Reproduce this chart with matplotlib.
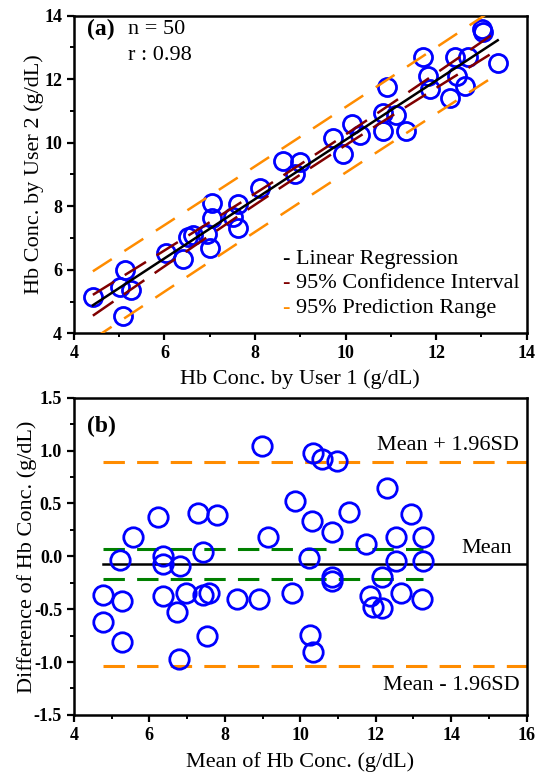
import numpy as np
import matplotlib
matplotlib.use("Agg")
import matplotlib.pyplot as plt
from matplotlib.ticker import MultipleLocator

plt.rcParams['font.family'] = ['Liberation Serif', 'DejaVu Serif']

# (a) Hb concentration read by the two users (g/dL)
user1 = [4.42, 5.13, 5.02, 5.26, 5.08, 6.03, 6.41, 6.52, 6.63, 6.94,
         7.00, 7.05, 7.05, 7.51, 7.62, 7.62, 8.11, 8.62, 8.88, 8.99,
         13.01, 13.03, 13.36, 11.70, 12.41, 12.70, 11.81, 12.45, 11.86, 12.63,
         12.30, 10.91, 10.82, 11.11, 10.14, 9.72, 10.31, 10.82, 11.33, 9.94]
user2 = [5.13, 6.00, 5.45, 5.35, 4.53, 6.52, 6.33, 7.02, 7.08, 7.11,
         6.70, 7.62, 8.09, 7.65, 8.06, 7.30, 8.56, 9.42, 9.00, 9.38,
         13.59, 13.47, 12.52, 12.68, 12.68, 12.68, 12.11, 12.11, 11.70, 11.77,
         11.39, 11.74, 10.92, 10.86, 10.60, 10.16, 10.23, 10.38, 10.38, 9.63]

# (b) Bland-Altman: mean and difference of the two readings
ba_mean = [4.77, 5.27, 4.77, 5.27, 5.22, 5.56, 6.23, 6.36, 6.36, 6.81,
           6.36, 6.73, 6.97, 6.78, 7.28, 7.79, 7.42, 7.42, 7.58, 7.52,
           8.32, 8.90, 9.14, 9.77, 9.85, 10.30, 10.83, 11.28, 12.93, 11.74,
           12.53, 13.25, 10.23, 12.53, 13.25, 10.83, 10.83, 12.16, 11.84, 11.92,
           12.16, 12.66, 13.22, 10.25, 10.33, 10.33, 10.57, 10.97, 12.29, 8.98]
ba_diff = [-0.37, -0.42, -0.62, -0.81, -0.03, 0.18, 0.37, 0.00, -0.07, -0.09,
           -0.38, -0.53, -0.35, -0.97, 0.41, 0.39, 0.04, -0.37, -0.35, -0.75,
           -0.40, -0.40, 0.18, -0.35, 0.52, 0.33, 0.23, 0.42, 0.40, 0.12,
           0.18, 0.18, -0.02, -0.04, -0.04, -0.20, -0.23, -0.20, -0.38, -0.48,
           -0.49, -0.35, -0.40, -0.74, -0.91, 0.98, 0.92, 0.90, 0.65, 1.04]
bias = -0.075
loa_upper = 0.89
loa_lower = -1.04
bias_ci = [0.065, -0.215]

BLUE = '#0000ff'
ORANGE = '#ff8c00'
DARKRED = '#800000'
GREEN = '#008000'

fig = plt.figure(figsize=(5.43, 7.77), dpi=100)
ax1 = fig.add_axes([0.136, 0.571, 0.834, 0.409])
ax2 = fig.add_axes([0.136, 0.080, 0.834, 0.408])


def style(ax):
    for sp in ax.spines.values():
        sp.set_linewidth(1.8)
    ax.tick_params(which='major', direction='out', length=5, width=1.6,
                   labelsize=13)
    ax.tick_params(which='minor', direction='out', length=3, width=1.4)
    for lab in ax.get_xticklabels() + ax.get_yticklabels():
        lab.set_fontweight('bold')


# ---- (a) regression with 95% confidence / prediction bands
x = np.array(user1)
y = np.array(user2)
n = len(x)
slope, icpt = np.polyfit(x, y, 1)
resid = y - (slope * x + icpt)
s = np.sqrt(np.sum(resid ** 2) / (n - 2))
sxx = np.sum((x - x.mean()) ** 2)
t = 2.02
xs = np.linspace(x.min(), x.max(), 200)
fit = slope * xs + icpt
ci = t * s * np.sqrt(1.0 / n + (xs - x.mean()) ** 2 / sxx)
pi = t * s * np.sqrt(1 + 1.0 / n + (xs - x.mean()) ** 2 / sxx)

ax1.plot(x, y, 'o', ms=13, mfc='none', mec=BLUE, mew=2, zorder=2)
ax1.plot(xs, fit, color='black', lw=1.8, zorder=3)
ax1.plot(xs, fit + ci, color=DARKRED, lw=1.8, dashes=(10, 5), zorder=3)
ax1.plot(xs, fit - ci, color=DARKRED, lw=1.8, dashes=(10, 5), zorder=3)
ax1.plot(xs, fit + pi, color=ORANGE, lw=1.8, dashes=(9, 6), zorder=3)
ax1.plot(xs, fit - pi, color=ORANGE, lw=1.8, dashes=(9, 6), zorder=3)

ax1.set_xlim(4, 14)
ax1.set_ylim(4, 14)
ax1.xaxis.set_major_locator(MultipleLocator(2))
ax1.xaxis.set_minor_locator(MultipleLocator(1))
ax1.yaxis.set_major_locator(MultipleLocator(2))
ax1.yaxis.set_minor_locator(MultipleLocator(1))
ax1.set_xlabel('Hb Conc. by User 1 (g/dL)', fontsize=16, labelpad=5)
ax1.set_ylabel('Hb Conc. by User 2 (g/dL)', fontsize=16, labelpad=0)
style(ax1)

ax1.text(0.03, 0.955, '(a)', transform=ax1.transAxes, fontsize=17,
         fontweight='bold', va='center')
ax1.text(0.12, 0.955, 'n = 50', transform=ax1.transAxes, fontsize=16,
         va='center')
ax1.text(0.12, 0.875, 'r : 0.98', transform=ax1.transAxes, fontsize=16,
         va='center')

legend_rows = [('Linear Regression', 'black'),
               ('95% Confidence Interval', DARKRED),
               ('95% Prediction Range', ORANGE)]
for i, (label, col) in enumerate(legend_rows):
    yy = 6.33 - i * 0.77
    ax1.text(8.6, yy, '-', color=col, fontsize=16, va='center')
    ax1.text(8.9, yy, label, color='black', fontsize=16, va='center')

# ---- (b) Bland-Altman
ax2.plot(ba_mean, ba_diff, 'o', ms=14, mfc='none', mec=BLUE, mew=2, zorder=3)
x_lo = min(ba_mean)
x_hi = max(ba_mean)
ax2.plot([x_lo, 16], [bias, bias], color='black', lw=1.8, zorder=2)
ax2.plot([x_lo, 16], [loa_upper, loa_upper], color=ORANGE, lw=2.2,
         dashes=(7, 4), zorder=2)
ax2.plot([x_lo, 16], [loa_lower, loa_lower], color=ORANGE, lw=2.2,
         dashes=(7, 4), zorder=2)
for v in bias_ci:
    ax2.plot([x_lo, x_hi], [v, v], color=GREEN, lw=2.2, dashes=(7, 4),
             zorder=2)

ax2.text(15.8, loa_upper + 0.16, 'Mean + 1.96SD', fontsize=16,
         ha='right', va='center')
ax2.text(15.6, bias + 0.15, 'Mean', fontsize=16, ha='right', va='center')
ax2.text(15.8, loa_lower - 0.18, 'Mean - 1.96SD', fontsize=16,
         ha='right', va='center')
ax2.text(0.03, 0.91, '(b)', transform=ax2.transAxes, fontsize=17,
         fontweight='bold', va='center')

ax2.set_xlim(4, 16)
ax2.set_ylim(-1.5, 1.5)
ax2.xaxis.set_major_locator(MultipleLocator(2))
ax2.xaxis.set_minor_locator(MultipleLocator(1))
ax2.yaxis.set_major_locator(MultipleLocator(0.5))
ax2.yaxis.set_minor_locator(MultipleLocator(0.25))
ax2.yaxis.set_major_formatter(plt.FuncFormatter(lambda v, p: '%.1f' % v))
ax2.set_xlabel('Mean of Hb Conc. (g/dL)', fontsize=16, labelpad=6)
ax2.set_ylabel('Difference of Hb Conc. (g/dL)', fontsize=16, labelpad=-2)
style(ax2)

fig.savefig('out.png', dpi=100)
